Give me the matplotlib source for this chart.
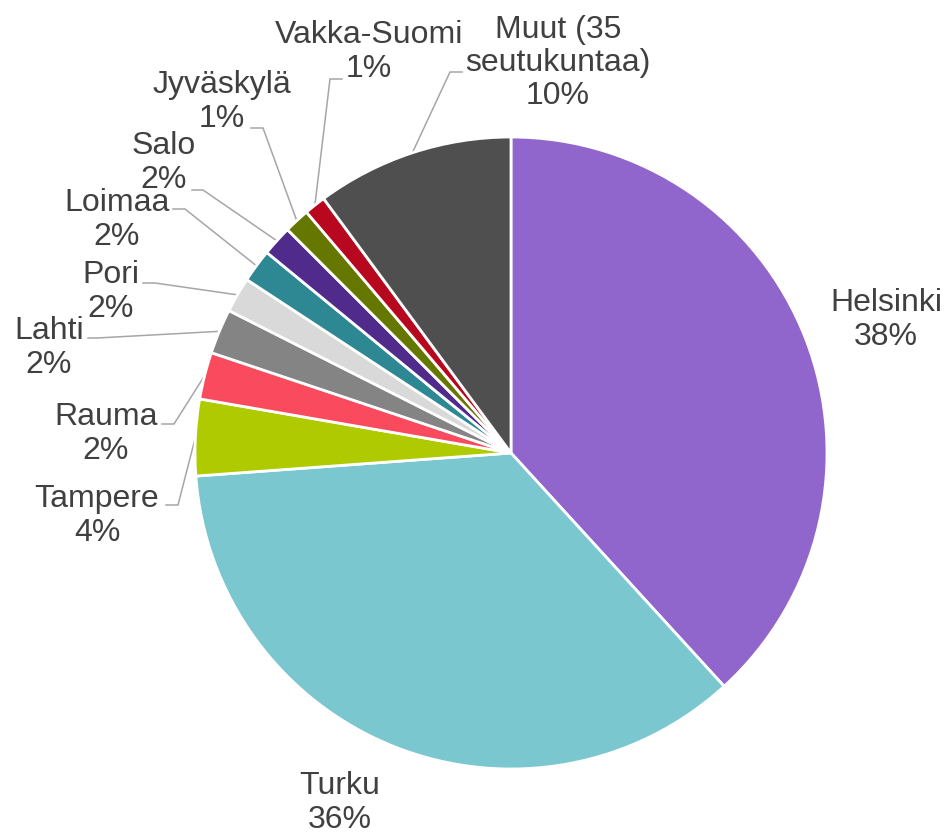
import matplotlib
matplotlib.use("Agg")
import matplotlib.pyplot as plt
import numpy as np

# ---- data ----
regions = ["Helsinki", "Turku", "Tampere", "Rauma", "Lahti", "Pori", "Loimaa",
           "Salo", "Jyväskylä", "Vakka-Suomi", "Muut (35\nseutukuntaa)"]
shares = [38.2, 35.6, 3.9, 2.4, 2.3, 1.8, 1.7, 1.55, 1.3, 1.1, 10.1]
colors = ["#9166CC", "#7AC7D0", "#AFCB00", "#F94A5E", "#848484", "#D9D9D9",
          "#2E8893", "#512B8B", "#667700", "#B8081F", "#4F4F4F"]

# ---- layout (pixels in the 946x834 canvas) ----
W, H = 946, 834
CX, CY, R = 511, 453, 316

def px(x, y):
    return ((x - CX) / R, (CY - y) / R)

# label centre (px), leader elbow (px), leader end (px) ; None = no leader
label_pos = [(886, 320), (340, 803), (97, 516), (106, 434), (49, 348), (111, 292),
             (117, 220), (164, 163), (222, 102), (369, 52), (558, 63)]
leaders = [None, None,
           ((178, 505), (166, 505)),
           ((174, 424), (162, 424)),
           ((97, 338), (88, 338)),
           ((155, 283), (143, 283)),
           ((185, 209), (173, 209)),
           ((203, 190), (192, 190)),
           ((263, 128), (251, 128)),
           ((330, 79), (342, 79)),
           ((450, 72), (462, 72))]

fig = plt.figure(figsize=(W / 100, H / 100), dpi=100)
ax = fig.add_axes([0, 0, 1, 1])

wedges, _ = ax.pie(shares, colors=colors, startangle=90, counterclock=False,
                   radius=1.0, center=(0, 0), frame=True,
                   wedgeprops=dict(edgecolor="white", linewidth=2))
ax.set_xlim(-CX / R, (W - CX) / R)
ax.set_ylim(-(H - CY) / R, CY / R)
ax.axis("off")

total = sum(shares)
for w, name, val, pos, ld in zip(wedges, regions, shares, label_pos, leaders):
    pct = val / total * 100
    txt = f"{name}\n{pct:.0f}%"
    x, y = px(*pos)
    ax.text(x, y, txt, ha="center", va="center", multialignment="center",
            fontsize=23, color="#404040", family=["Liberation Sans", "DejaVu Sans"],
            linespacing=1.15)
    if ld is not None:
        mid = np.deg2rad((w.theta1 + w.theta2) / 2)
        sx, sy = np.cos(mid) * 1.0, np.sin(mid) * 1.0
        ex, ey = px(*ld[0])
        fx, fy = px(*ld[1])
        ax.plot([sx, ex, fx], [sy, ey, fy], color="#A6A6A6", lw=1.1,
                solid_joinstyle="miter", zorder=0.5)

fig.savefig("out.png", dpi=100)
